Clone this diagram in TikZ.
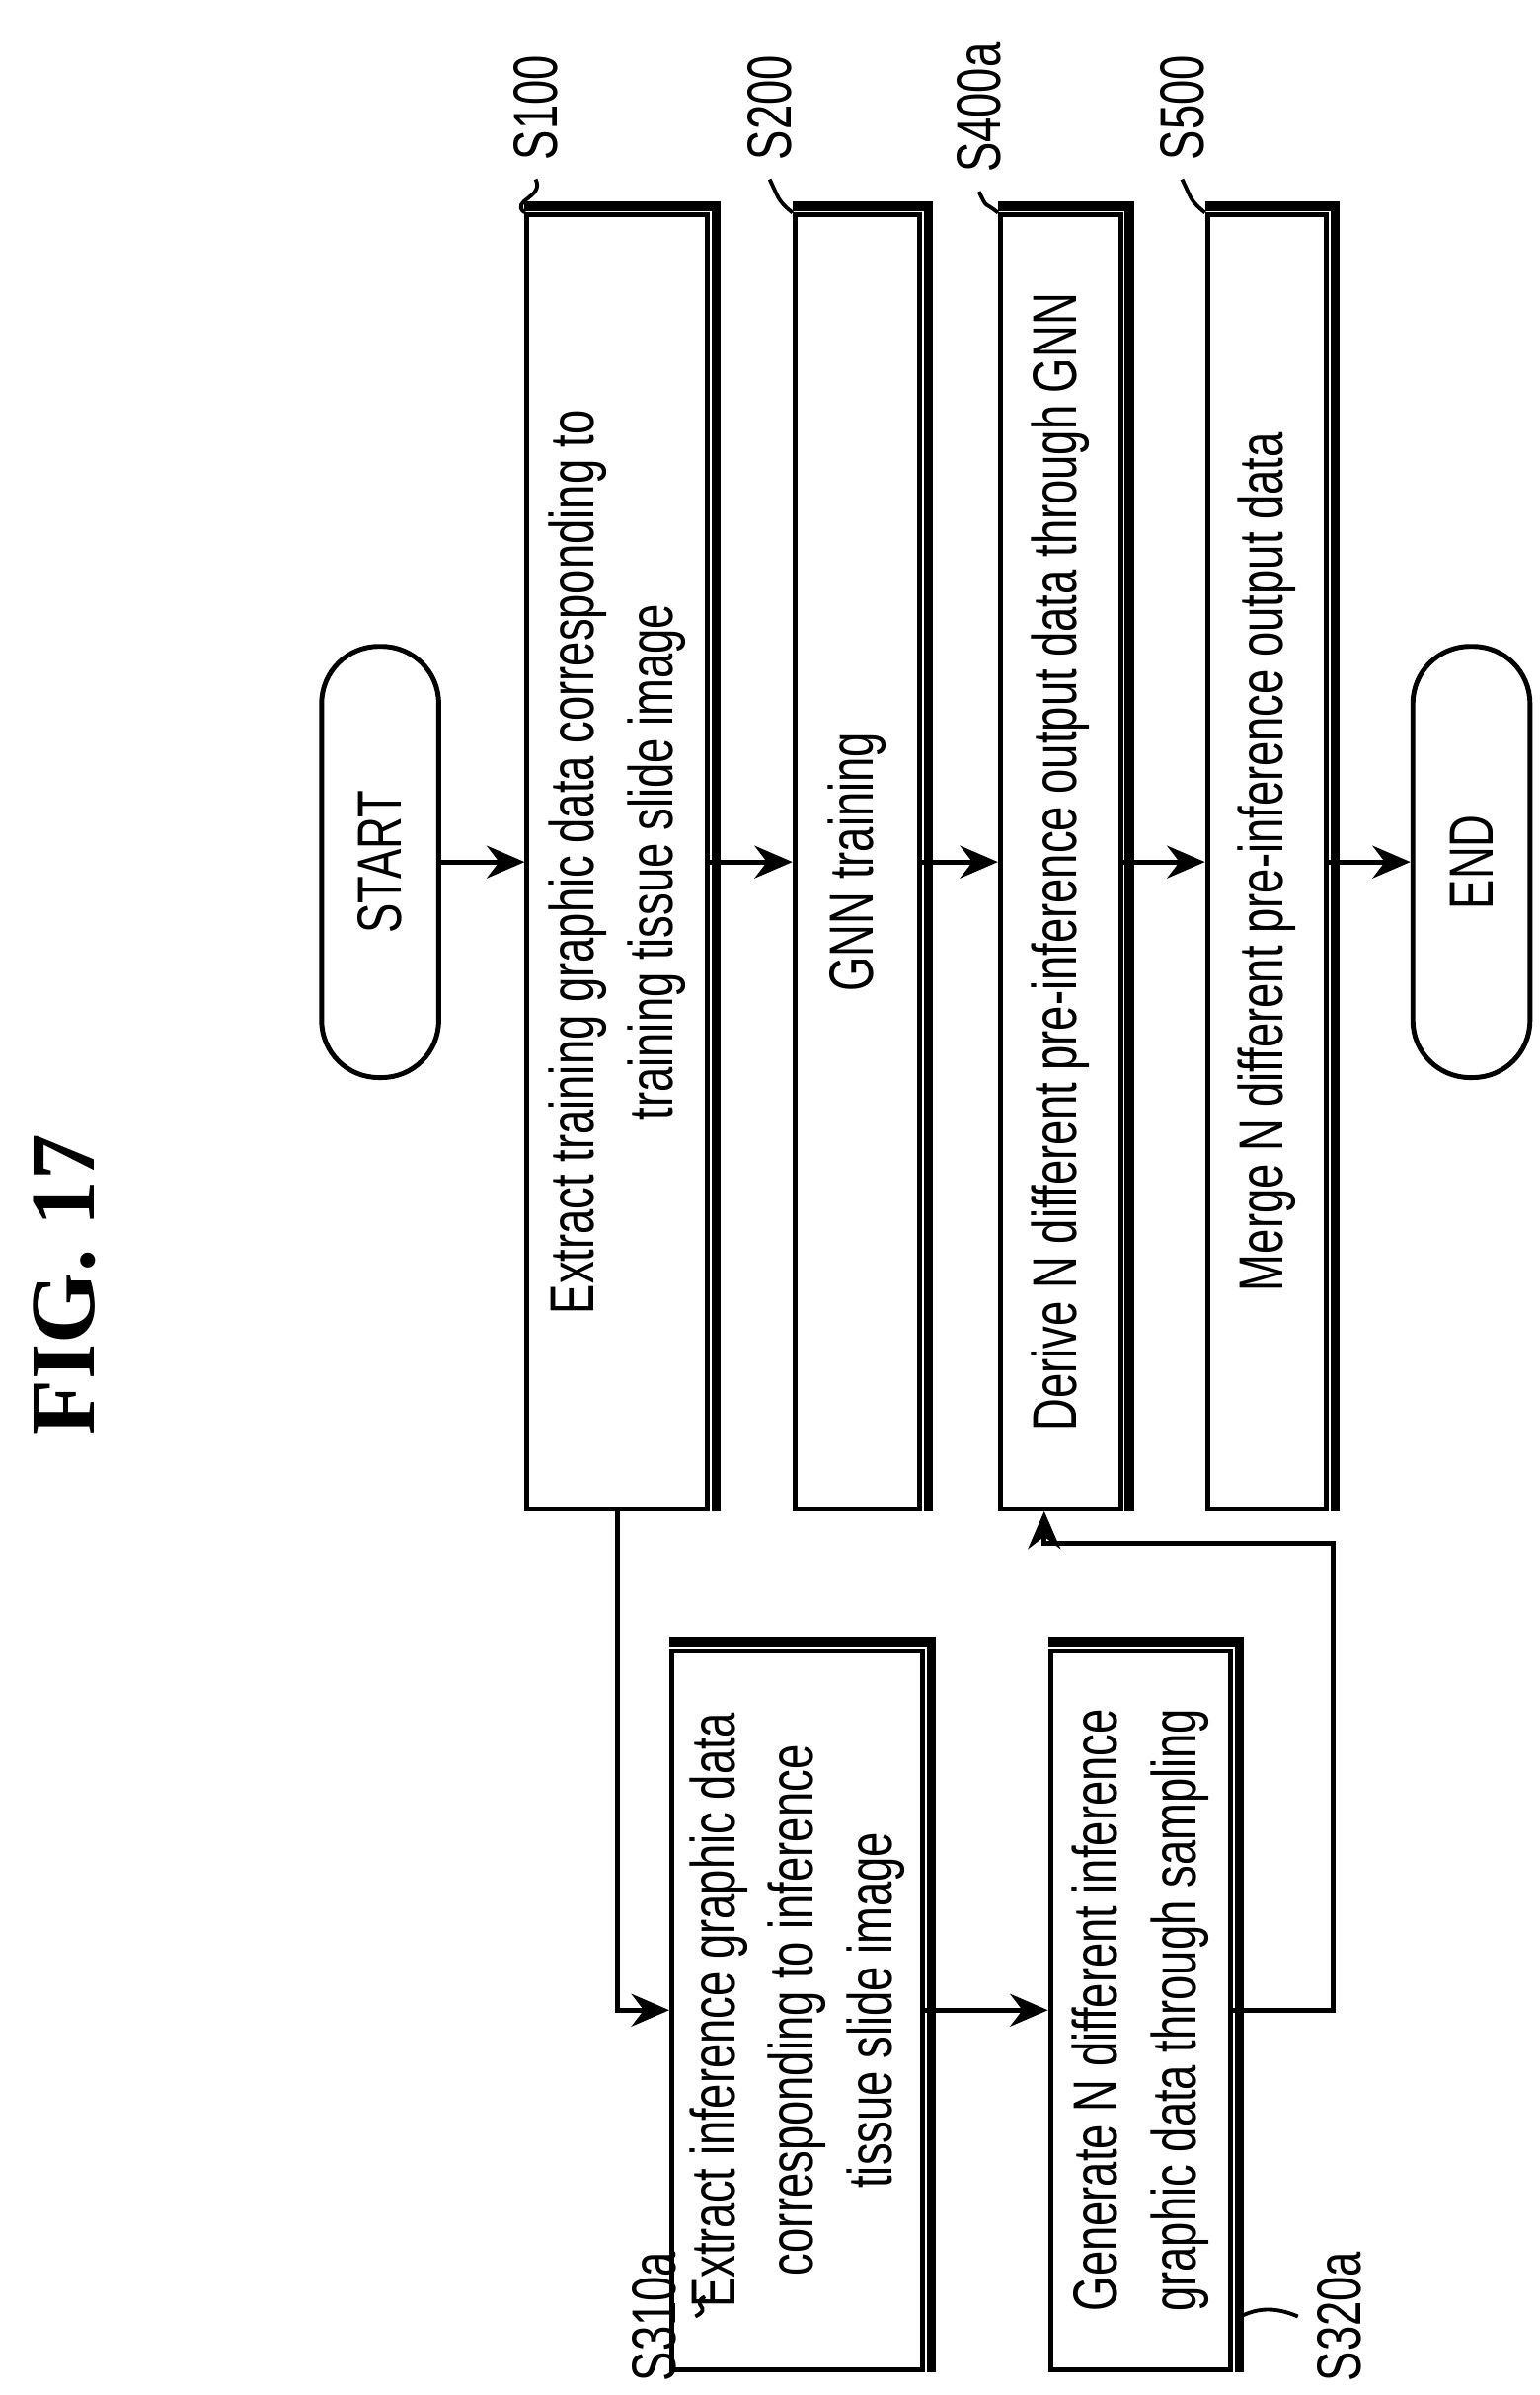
\documentclass[tikz,border=0pt]{standalone}
\usepackage{fontspec}
\setmainfont{Liberation Sans}[FakeStretch=0.72]
\newfontfamily\figfont{Liberation Serif}
\usetikzlibrary{arrows.meta,positioning}
\tikzset{
  flowbox/.style={draw,line width=0.9pt,rotate=90,align=center,
    font=\fontsize{11.5}{14.5}\selectfont},
  term/.style={flowbox,rounded corners=0.37cm,minimum width=2.8cm,minimum height=0.76cm},
  longbox/.style={flowbox,minimum width=8.4cm,minimum height=#1},
  shortbox/.style={flowbox,minimum width=4.67cm,minimum height=#1},
  shade/.style={line width=1.7pt},
  flow/.style={line width=0.9pt,-{Stealth[length=7pt,width=6pt]}},
  tag/.style={rotate=90,font=\fontsize{11.5}{13}\selectfont},
  lead/.style={line width=0.7pt}
}
\newcommand{\shadeit}[1]{\draw[shade] ([xshift=1.2pt]#1.south west) -- ([xshift=1.2pt,yshift=1.2pt]#1.south east) -- ([yshift=1.2pt]#1.north east);}
\begin{document}
\begin{tikzpicture}[x=0.01cm,y=-0.01cm]
\useasboundingbox (0,0) rectangle (1000,1556);

\node[rotate=90,font=\figfont\bfseries\fontsize{17}{20}\selectfont] (fig) at (42,835) {FIG. 17};

% main column
\node[term] (start) at (247,560) {START};
\node[longbox=1.17cm] (s100) at (401,560) {Extract training graphic data corresponding to\\training tissue slide image};
\node[longbox=0.81cm] (s200) at (557,560) {GNN training};
\node[longbox=0.78cm] (s400) at (689,560) {Derive N different pre-inference output data through GNN};
\node[longbox=0.77cm] (s500) at (823,560) {Merge N different pre-inference output data};
\node[term] (end) at (956,560) {END};

% inference branch
\node[shortbox=1.2cm] (s310) at (518,1306) {Extract inference graphic data\\corresponding to inference\\tissue slide image};
\node[shortbox=1.17cm] (s320) at (741,1306) {Generate N different inference\\graphic data through sampling};

\foreach \b in {s100,s200,s400,s500,s310,s320} {\shadeit{\b}}

\draw[flow] (start) -- (s100);
\draw[flow] (s100) -- (s200);
\draw[flow] (s200) -- (s400);
\draw[flow] (s400) -- (s500);
\draw[flow] (s500) -- (end);
\draw[flow] (s100.west) |- (s310.north);
\draw[flow] (s310) -- (s320);
\coordinate (back) at (866,1003);
\draw[flow] (s320.south) -| (back) -| ([xshift=-3pt]s400.west);

% step labels
\node[tag] (t100) at (348,70) {S100};
\node[tag] (t200) at (500,70) {S200};
\node[tag] (t400) at (636,70) {S400a};
\node[tag] (t500) at (768,70) {S500};
\node[tag] (t310) at (425,1505) {S310a};
\node[tag] (t320) at (870,1505) {S320a};
\foreach \t/\b in {t100/s100,t200/s200,t400/s400,t500/s500} {
  \draw[lead] (\t.west) .. controls +(6,12) and +(-10,-8) .. (\b.north east);
}
\coordinate (c310) at (458,1492);
\coordinate (c320) at (806,1505);
\draw[lead] (t310.south) .. controls +(12,-6) and +(-10,6) .. (c310);
\draw[lead] (t320.north) .. controls +(-14,-6) and +(12,-6) .. (c320);
\end{tikzpicture}
\end{document}
